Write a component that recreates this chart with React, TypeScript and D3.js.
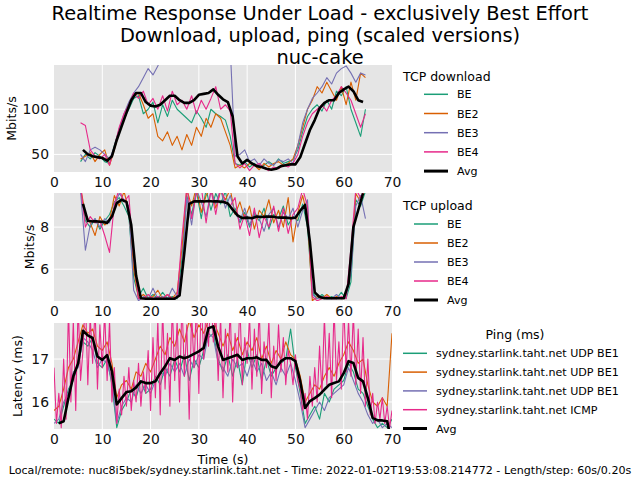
import { useEffect, useRef } from "react";
import * as d3 from "d3";

const W = 640;
const H = 480;
const FONT = "DejaVu Sans, Verdana, sans-serif";
const COLORS = ["#1b9e77", "#d95f02", "#7570b3", "#e7298a"];
const X_TICKS = [0, 10, 20, 30, 40, 50, 60, 70];

// TCP download, Mbits/s, one sample per second from t=5.5
const dlBE = [
  42, 50, 45, 52, 48, 42, 40, 60, 78, 90,
  100, 112, 115, 95, 100, 108, 85, 105, 92, 110,
  100, 95, 90, 85, 98, 90, 80, 100, 95, 92,
  88, 70, 40, 38, 42, 36, 40, 35, 38, 42,
  38, 45, 40, 42, 44, 55, 75, 92, 100, 105,
  98, 110, 100, 120, 115, 125, 100, 85, 70, 100,
];
const dlBE2 = [
  45, 48, 52, 42, 50, 55, 38, 55, 75, 90,
  105, 115, 118, 105, 90, 95, 70, 65, 75, 60,
  70, 55, 72, 60, 80, 70, 90, 80, 95, 90,
  75, 60, 35, 38, 35, 40, 38, 33, 40, 36,
  40, 42, 38, 40, 45, 60, 80, 100, 110, 125,
  118, 130, 120, 110, 125, 105, 130, 110, 140, 135,
];
const dlBE3 = [
  50, 42, 55, 58, 55, 50, 45, 58, 78, 95,
  108, 118, 125, 135, 145, 138, 148, 160, 165, 170,
  172, 168, 175, 170, 165, 172, 168, 175, 170, 166,
  172, 168, 48, 50, 55, 42, 45, 38, 45, 40,
  38, 44, 42, 45, 40, 60, 85, 100, 112, 118,
  125, 135, 128, 140, 145, 148, 140, 130, 140, 138,
];
const dlBE4 = [
  85, 82, 55, 48, 45, 50, 38, 58, 80, 95,
  105, 118, 112, 120, 105, 112, 100, 115, 98, 120,
  105, 110, 100, 115, 95, 110, 100, 112, 125, 100,
  105, 98, 40, 35, 40, 32, 38, 40, 35, 32,
  36, 34, 38, 36, 40, 50, 70, 85, 95, 100,
  105, 98, 110, 115, 125, 118, 110, 95, 80, 95,
];
// average, from t=6
const dlAvg = [
  55, 50, 48, 47, 46, 43, 48, 66, 81, 96,
  110, 118, 118, 108, 104, 103, 105, 110, 115, 115,
  110, 107, 107, 110, 116, 117, 118, 122, 116, 111,
  108, 92, 48, 40, 44, 40, 37, 36, 34, 33,
  34, 37, 38, 39, 39, 47, 62, 77, 88, 101,
  107, 110, 110, 118, 122, 125, 120, 110, 108,
];

// TCP upload, Mbits/s, from t=5.5
const ulBE = [
  9.8, 8.3, 8.0, 8.4, 7.9, 8.3, 8.6, 9.2, 9.4, 9.0,
  8.5, 5.6, 4.7, 5.1, 4.6, 4.8, 4.6, 4.9, 4.6, 4.7,
  4.6, 6.5, 9.5, 8.6, 9.7, 8.4, 9.8, 8.8, 9.6, 9.1,
  9.7, 8.5, 8.9, 8.2, 8.7, 8.0, 8.6, 8.3, 8.9, 7.9,
  8.6, 8.4, 9.0, 8.1, 8.5, 8.3, 9.1, 8.0, 4.9, 4.6,
  4.8, 4.6, 4.7, 4.6, 4.9, 4.6, 5.4, 9.3, 9.0, 9.7,
];
const ulBE2 = [
  9.9, 8.6, 8.2, 7.6, 8.5, 8.1, 8.3, 9.5, 9.0, 9.7,
  8.8, 6.0, 4.6, 4.8, 4.6, 4.7, 5.0, 4.6, 4.8, 4.6,
  4.9, 7.0, 9.8, 9.0, 9.9, 8.7, 9.5, 9.9, 8.9, 9.7,
  9.3, 9.8, 8.6, 9.2, 8.4, 9.0, 7.9, 8.8, 8.5, 9.3,
  8.2, 8.8, 8.0, 9.4, 7.3, 8.7, 9.5, 8.5, 4.5, 4.7,
  4.6, 4.8, 4.6, 4.7, 4.6, 4.8, 6.2, 9.6, 9.2, 9.9,
];
const ulBE3 = [
  9.7, 6.9, 8.1, 8.4, 8.0, 8.4, 8.2, 9.0, 9.6, 9.3,
  9.0, 5.0, 4.5, 4.7, 4.6, 5.1, 4.6, 4.7, 4.6, 5.1,
  4.7, 6.0, 9.4, 8.1, 9.8, 9.2, 8.5, 9.7, 9.1, 9.8,
  8.9, 9.5, 8.7, 8.3, 8.9, 8.1, 8.7, 8.4, 7.8, 8.6,
  8.9, 8.0, 8.7, 8.4, 8.9, 8.0, 8.8, 9.3, 4.8, 4.6,
  4.7, 4.6, 4.6, 4.8, 4.6, 4.7, 5.8, 9.0, 9.5, 8.4,
];
const ulBE4 = [
  10.0, 8.0, 8.5, 8.2, 8.3, 7.6, 6.8, 9.1, 9.8, 9.2,
  9.5, 6.5, 4.6, 4.6, 4.8, 4.6, 4.7, 4.6, 4.8, 4.6,
  4.7, 7.5, 9.9, 8.4, 9.6, 9.9, 8.2, 9.8, 8.6, 9.9,
  9.2, 9.0, 9.4, 7.9, 8.6, 7.6, 8.9, 7.5, 8.5, 8.0,
  9.0, 7.8, 8.9, 7.7, 8.6, 8.9, 9.8, 9.0, 4.7, 4.5,
  4.6, 4.7, 4.6, 4.6, 4.7, 4.6, 7.0, 9.8, 9.4, 9.9,
];
const ulAvg = [
  9.1, 8.3, 8.27, 8.27, 8.25, 8.2, 8.5, 9.14, 9.3, 9.2,
  8.1, 5.7, 4.62, 4.6, 4.6, 4.6, 4.6, 4.6, 4.6, 4.6,
  4.75, 6.8, 9.1, 9.22, 9.22, 9.22, 9.24, 9.22, 9.22, 9.2,
  9.12, 8.83, 8.56, 8.43, 8.45, 8.42, 8.5, 8.48, 8.5, 8.5,
  8.47, 8.45, 8.45, 8.42, 8.45, 8.78, 9.05, 7.3, 4.9, 4.68,
  4.62, 4.62, 4.62, 4.62, 4.62, 5.3, 8.0, 8.8, 9.6,
];

// Ping, ms, UDP once per second from t=0
const pingUdp1 = [
  15.6, 15.5, 15.9, 16.3, 16.5, 16.9, 17.4, 17.3, 17.5, 16.9,
  16.8, 17.0, 16.4, 15.4, 15.8, 16.0, 16.3, 16.1, 16.5, 16.2,
  16.3, 16.6, 16.4, 16.8, 16.6, 17.0, 16.7, 17.1, 16.5, 17.0,
  16.8, 17.2, 17.5, 17.6, 17.0, 16.7, 17.1, 16.6, 17.0, 16.4,
  17.2, 16.8, 17.1, 16.5, 17.0, 16.6, 16.8, 16.9, 17.0, 17.7,
  16.8, 16.2, 15.5, 15.7, 15.9, 15.6, 16.2, 16.0, 16.3, 16.4,
  16.5, 16.9, 16.7, 16.3, 16.2, 15.9, 15.6, 15.4, 15.5, 15.4,
  15.6,
];
const pingUdp2 = [
  15.8, 15.9, 16.3, 16.8, 17.0, 17.4, 17.8, 17.6, 17.7, 17.3,
  17.2, 17.4, 16.9, 16.1, 16.4, 16.5, 16.3, 16.7, 16.6, 16.9,
  16.7, 17.0, 17.3, 17.1, 17.5, 17.3, 17.7, 17.4, 17.9, 17.5,
  17.8, 17.6, 17.9, 17.9, 17.6, 17.3, 17.6, 17.2, 17.5, 17.1,
  17.4, 17.2, 17.5, 17.0, 17.3, 16.9, 17.2, 17.0, 17.4, 17.1,
  17.0, 16.6, 16.0, 16.2, 16.4, 16.3, 16.6, 16.8, 16.6, 16.9,
  17.1, 17.4, 17.2, 16.9, 17.0, 16.4, 16.0, 15.9, 16.1, 15.9,
  17.6,
];
const pingUdp3 = [
  15.5, 15.6, 16.0, 16.2, 16.7, 16.8, 17.5, 17.4, 17.2, 16.8,
  17.0, 16.9, 16.5, 15.5, 15.9, 16.1, 16.0, 16.4, 16.2, 16.4,
  16.2, 16.5, 16.7, 16.6, 16.9, 16.7, 16.9, 16.6, 17.0, 16.8,
  17.1, 17.0, 17.6, 17.5, 16.9, 16.8, 16.6, 17.0, 16.8, 16.9,
  16.6, 17.0, 16.7, 16.9, 16.5, 16.7, 16.4, 16.8, 16.6, 16.9,
  16.5, 16.0, 15.4, 15.6, 15.8, 16.0, 15.8, 16.1, 16.2, 16.3,
  16.4, 16.8, 16.5, 16.2, 16.0, 15.7, 15.5, 15.6, 15.4, 15.5,
  15.4,
];
// ICMP every half second from t=0
const pingIcmp = [
  16.8, 15.5, 16.2, 15.4, 17.0, 15.6, 18.2, 16.0, 17.9, 15.8,
  18.3, 16.5, 17.2, 18.5, 16.4, 18.0, 16.9, 18.2, 16.3, 17.8,
  16.8, 18.1, 16.5, 17.9, 16.0, 16.8, 15.5, 16.3, 15.7, 16.6,
  15.9, 16.8, 15.8, 16.5, 16.0, 16.9, 15.9, 16.7, 16.2, 17.2,
  15.8, 17.5, 16.1, 17.9, 15.7, 18.2, 16.3, 17.6, 15.9, 18.3,
  16.5, 17.9, 16.0, 18.4, 16.6, 17.8, 15.6, 18.1, 16.8, 18.3,
  16.2, 18.5, 17.0, 18.2, 17.3, 18.6, 17.4, 18.1, 16.5, 18.0,
  16.1, 17.7, 16.7, 18.2, 16.0, 17.6, 16.8, 18.3, 16.4, 17.5,
  16.9, 18.0, 16.3, 17.7, 16.6, 18.2, 16.2, 17.4, 16.8, 17.9,
  16.1, 17.3, 16.5, 17.8, 16.7, 17.5, 16.4, 17.2, 16.9, 16.4,
  17.1, 16.5, 16.3, 15.8, 16.2, 15.6, 16.6, 15.9, 16.8, 16.0,
  17.3, 16.2, 18.0, 16.4, 17.6, 16.1, 18.2, 16.5, 17.4, 16.3,
  18.3, 16.7, 17.9, 16.6, 18.1, 16.4, 17.7, 16.2, 17.5, 15.9,
  17.0, 15.7, 16.2, 15.5, 16.0, 15.6, 16.1, 15.5, 15.9, 15.4,
  15.8,
];
// average, from t=1
const pingAvg = [
  15.5, 15.55, 16.1, 16.6, 16.9, 17.66, 17.55, 17.49, 17.06, 16.98,
  17.09, 16.71, 15.94, 16.09, 16.23, 16.25, 16.34, 16.48, 16.44, 16.44,
  16.48, 16.67, 16.83, 17.02, 16.98, 17.06, 17.02, 17.06, 17.12, 17.18,
  17.26, 17.72, 17.76, 17.29, 16.98, 17.02, 17.06, 17.1, 16.98, 17.02,
  17.02, 17.04, 16.98, 16.98, 16.83, 16.79, 16.95, 17.02, 17.02, 16.95,
  16.48, 15.86, 16.02, 16.09, 16.17, 16.29, 16.4, 16.44, 16.48, 16.67,
  16.95, 16.91, 16.56, 16.48, 16.09, 15.63, 15.57, 15.57, 15.55, 15.0,
];

const tcpNames = ["BE", "BE2", "BE3", "BE4"];
const pingNames = [
  "sydney.starlink.taht.net UDP BE1",
  "sydney.starlink.taht.net UDP BE1",
  "sydney.starlink.taht.net UDP BE1",
  "sydney.starlink.taht.net ICMP",
];

interface Series {
  values: number[];
  t0: number;
  step: number;
}

interface PanelDef {
  top: number;
  bottom: number;
  domain: [number, number];
  yTicks: number[];
  yLabel: string;
  yLabelX: number;
  series: Series[];
  avg: Series;
  legendTitle: string;
  legendTitleX: number;
  legendTitleAnchor: string;
  legendTitleY: number;
  legendLineX: number;
  legendY0: number;
  legendGap: number;
  names: string[];
}

const panels: PanelDef[] = [
  {
    top: 65, bottom: 172, domain: [30.5, 149], yTicks: [50, 100],
    yLabel: "Mbits/s", yLabelX: 16,
    series: [dlBE, dlBE2, dlBE3, dlBE4].map((v) => ({ values: v, t0: 5.5, step: 1 })),
    avg: { values: dlAvg, t0: 6, step: 1 },
    legendTitle: "TCP download", legendTitleX: 403, legendTitleAnchor: "start", legendTitleY: 80.5,
    legendLineX: 424, legendY0: 94.3, legendGap: 19.2, names: tcpNames,
  },
  {
    top: 193, bottom: 301, domain: [4.49, 9.62], yTicks: [6, 8],
    yLabel: "Mbits/s", yLabelX: 34,
    series: [ulBE, ulBE2, ulBE3, ulBE4].map((v) => ({ values: v, t0: 5.5, step: 1 })),
    avg: { values: ulAvg, t0: 6, step: 1 },
    legendTitle: "TCP upload", legendTitleX: 403, legendTitleAnchor: "start", legendTitleY: 209.5,
    legendLineX: 414, legendY0: 224, legendGap: 19, names: tcpNames,
  },
  {
    top: 323, bottom: 429, domain: [15.37, 17.84], yTicks: [16, 17],
    yLabel: "Latency (ms)", yLabelX: 22,
    series: [
      { values: pingUdp1, t0: 0, step: 1 },
      { values: pingUdp2, t0: 0, step: 1 },
      { values: pingUdp3, t0: 0, step: 1 },
      { values: pingIcmp, t0: 0, step: 0.5 },
    ],
    avg: { values: pingAvg, t0: 1, step: 1 },
    legendTitle: "Ping (ms)", legendTitleX: 515, legendTitleAnchor: "middle", legendTitleY: 338.5,
    legendLineX: 403, legendY0: 353.3, legendGap: 18.8, names: pingNames,
  },
];

export default function App() {
  const ref = useRef<SVGSVGElement | null>(null);

  useEffect(() => {
    if (!ref.current) return;
    const svg = d3.select(ref.current);
    svg.selectAll("*").remove();

    const x = d3.scaleLinear().domain([0, 70]).range([54, 392]);

    svg.append("rect").attr("width", W).attr("height", H).attr("fill", "white");

    // Title block
    const titles = [
      "Realtime Response Under Load - exclusively Best Effort",
      "Download, upload, ping (scaled versions)",
      "nuc-cake",
    ];
    titles.forEach((t, i) => {
      svg.append("text")
        .attr("x", 320).attr("y", 20 + i * 22)
        .attr("text-anchor", "middle")
        .attr("font-family", FONT).attr("font-size", 19.4)
        .text(t);
    });

    panels.forEach((p, pi) => {
      const y = d3.scaleLinear().domain(p.domain).range([p.bottom, p.top]);
      const g = svg.append("g");

      g.append("rect")
        .attr("x", x(0)).attr("y", p.top)
        .attr("width", x(70) - x(0)).attr("height", p.bottom - p.top)
        .attr("fill", "#e5e5e5");

      // grid
      g.selectAll("line.vg")
        .data(X_TICKS.filter((v) => v > 0 && v < 70))
        .join("line")
        .attr("x1", (d) => x(d)).attr("x2", (d) => x(d))
        .attr("y1", p.top).attr("y2", p.bottom)
        .attr("stroke", "white").attr("stroke-width", 1);
      g.selectAll("line.hg")
        .data(p.yTicks)
        .join("line")
        .attr("x1", x(0)).attr("x2", x(70))
        .attr("y1", (d) => y(d)).attr("y2", (d) => y(d))
        .attr("stroke", "white").attr("stroke-width", 1);

      // tick labels
      const xAxis = g.append("g")
        .attr("transform", `translate(0,${p.bottom})`)
        .call(d3.axisBottom(x).tickValues(X_TICKS).tickSize(0).tickPadding(5).tickFormat(d3.format("d")));
      const yAxis = g.append("g")
        .attr("transform", `translate(${x(0)},0)`)
        .call(d3.axisLeft(y).tickValues(p.yTicks).tickSize(0).tickPadding(5).tickFormat(d3.format("d")));
      [xAxis, yAxis].forEach((a) => {
        a.select(".domain").remove();
        a.selectAll("text")
          .attr("font-family", FONT).attr("font-size", 13.9).attr("fill", "#111");
      });

      svg.append("text")
        .attr("transform", `translate(${p.yLabelX},${(p.top + p.bottom) / 2}) rotate(-90)`)
        .attr("text-anchor", "middle")
        .attr("font-family", FONT).attr("font-size", 12.5)
        .text(p.yLabel);

      // data
      const clipId = `clip-${pi}`;
      svg.append("clipPath").attr("id", clipId)
        .append("rect")
        .attr("x", x(0)).attr("y", p.top)
        .attr("width", x(70) - x(0)).attr("height", p.bottom - p.top);
      const plot = g.append("g").attr("clip-path", `url(#${clipId})`);

      const lineFor = (s: Series) =>
        d3.line<number>()
          .x((_, i) => x(s.t0 + i * s.step))
          .y((d) => y(d))(s.values);

      p.series.forEach((s, si) => {
        plot.append("path")
          .attr("d", lineFor(s))
          .attr("fill", "none")
          .attr("stroke", COLORS[si])
          .attr("stroke-width", 1.1)
          .attr("stroke-linejoin", "round");
      });
      plot.append("path")
        .attr("d", lineFor(p.avg))
        .attr("fill", "none")
        .attr("stroke", "black")
        .attr("stroke-width", 2.6)
        .attr("stroke-linejoin", "round");

      // legend
      const lg = svg.append("g");
      lg.append("text")
        .attr("x", p.legendTitleX).attr("y", p.legendTitleY)
        .attr("text-anchor", p.legendTitleAnchor)
        .attr("font-family", FONT).attr("font-size", 12.5)
        .text(p.legendTitle);
      const entries = [...p.names.map((n, i) => ({ n, c: COLORS[i], w: 1.5 })), { n: "Avg", c: "black", w: 3 }];
      entries.forEach((e, i) => {
        const ly = p.legendY0 + i * p.legendGap;
        lg.append("line")
          .attr("x1", p.legendLineX).attr("x2", p.legendLineX + 24)
          .attr("y1", ly).attr("y2", ly)
          .attr("stroke", e.c).attr("stroke-width", e.w);
        lg.append("text")
          .attr("x", p.legendLineX + 33).attr("y", ly + 4)
          .attr("font-family", FONT).attr("font-size", 11.1)
          .text(e.n);
      });
    });

    svg.append("text")
      .attr("x", x(35)).attr("y", 464)
      .attr("text-anchor", "middle")
      .attr("font-family", FONT).attr("font-size", 12.5)
      .text("Time (s)");

    svg.append("text")
      .attr("x", 320).attr("y", 474)
      .attr("text-anchor", "middle")
      .attr("font-family", FONT).attr("font-size", 11.1)
      .text("Local/remote: nuc8i5bek/sydney.starlink.taht.net - Time: 2022-01-02T19:53:08.214772 - Length/step: 60s/0.20s");
  }, []);

  return (
    <svg
      ref={ref}
      width={W}
      height={H}
      style={{ position: "absolute", left: 0, top: 0 }}
    />
  );
}
